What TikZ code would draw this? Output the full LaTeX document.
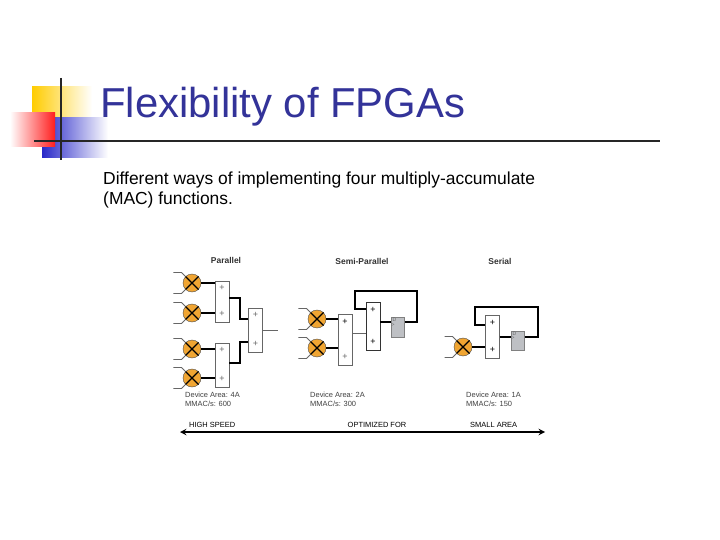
\documentclass[tikz,border=0pt]{standalone}
\usepackage{fontspec}
\setmainfont{Liberation Sans}
\usetikzlibrary{positioning}
\definecolor{titleblue}{RGB}{51,51,153}
\definecolor{decoyellow}{RGB}{255,204,0}
\definecolor{decoblue}{RGB}{40,40,200}
\definecolor{decored}{RGB}{255,30,30}
\definecolor{multorange}{RGB}{240,165,50}
\definecolor{reggray}{RGB}{190,192,196}

\tikzset{
  mult/.style = {circle, draw = black!70, fill = multorange, minimum size = 18bp, inner sep = 0pt},
  adder/.style = {rectangle, draw = black!60, fill = white, minimum width = 14bp, inner sep = 0pt},
  regbox/.style = {rectangle, draw = black!50, fill = reggray, minimum width = 13bp, inner sep = 0pt},
  wire/.style = {line width = 1.8bp, black},
  thinwire/.style = {line width = 0.8bp, black!60},
  head/.style = {font = \fontsize{8.5}{9}\selectfont\bfseries, text = black!80},
  info/.style = {font = \fontsize{7.5}{9}\selectfont, text = black!75, align = left, anchor = north west, inner sep = 0pt},
}

\newcommand{\crossit}[1]{\draw[line width = 1.3bp] (#1.45) -- (#1.225) (#1.135) -- (#1.315);}
\newcommand{\feeds}[1]{%
  \draw[thinwire] (#1.135) -- ++(-4,-4) -- ++(-8,0);
  \draw[thinwire] (#1.225) -- ++(-4,4) -- ++(-8,0);}

\begin{document}
\begin{tikzpicture}[x = 1bp, y = -1bp]
\useasboundingbox (0,0) rectangle (720,540);
\fill[white] (0,0) rectangle (720,540);

% corner decoration
\shade[left color = decoyellow, right color = white] (32,87) rectangle (92,118);
\shade[left color = decoblue, right color = white] (42,118) rectangle (108,158);
\shade[left color = white, right color = decored] (10,113) rectangle (55,147);
\draw[line width = 2bp, black!85] (61,78) -- (61,160);
\draw[line width = 2bp, black!85] (34,141) -- (660,141);

\node[anchor = west, text = titleblue, font = \fontsize{42}{48}\selectfont, inner sep = 0pt] (title) at (100,107) {Flexibility of FPGAs};
\node[anchor = base west, align = left, font = \fontsize{17.5}{21}\selectfont, inner sep = 0pt] (body) at (103,205)
  {Different ways of implementing four multiply-accumulate\\(MAC) functions.};

% parallel
\node[head] (hpar) at (226,260) {Parallel};
\foreach \n/\y in {1/283, 2/313, 3/349, 4/378} {
  \node[mult] (pm\n) at (192,\y) {};
  \crossit{pm\n}
  \feeds{pm\n}
}
\node[adder, minimum height = 41bp] (pa1) at (222,301.5) {};
\node[adder, minimum height = 44bp] (pa2) at (222,365) {};
\node[adder, minimum height = 44bp] (pa3) at (255.5,330) {};
\foreach \a in {pa1, pa2, pa3} {
  \node[font = \small, text = black!60] at ([yshift = -7bp]\a.north) {+};
  \node[font = \small, text = black!60] at ([yshift = 8bp]\a.south) {+};
}
\draw[wire] (pm1) -- (pm1 -| pa1.west);
\draw[wire] (pm2) -- (pm2 -| pa1.west);
\draw[wire] (pm3) -- (pm3 -| pa2.west);
\draw[wire] (pm4) -- (pm4 -| pa2.west);
\draw[wire] (pa1.east |- 0,298) -- (240,298) -- (240,319) -- (pa3.west |- 0,319);
\draw[wire] (pa2.east |- 0,363) -- (240,363) -- (240,342) -- (pa3.west |- 0,342);
\draw[thinwire] (pa3.east) -- (278,330);
\node[info] (ipar) at (185,392) {Device Area: 4A\\MMAC/s: 600};

% semi-parallel
\node[head] (hsemi) at (362,261) {Semi-Parallel};
\foreach \n/\y in {1/319, 2/348} {
  \node[mult] (sm\n) at (317,\y) {};
  \crossit{sm\n}
  \feeds{sm\n}
}
\node[adder, minimum height = 51bp] (sa1) at (345,339.5) {};
\node[adder, minimum height = 48bp, draw = black!80] (sa2) at (373,326) {};
\node[regbox, minimum height = 20bp] (sr) at (398,327) {};
\node[font = \tiny, text = black!60, anchor = north west, inner sep = 1bp] at (sr.north west) {D};
\node[font = \tiny, text = black!60, anchor = west, inner sep = 0pt] at ([yshift = 2bp]sr.west) {>};
\node[font = \small] at ([yshift = -8bp]sa1.north) {+};
\node[font = \small, text = black!60] at ([yshift = 8bp]sa1.south) {+};
\node[font = \small] at ([yshift = -8bp]sa2.north) {+};
\node[font = \small] at ([yshift = 8bp]sa2.south) {+};
\draw[wire] (sm1) -- (sm1 -| sa1.west);
\draw[wire] (sm2) -- (sm2 -| sa1.west);
\draw[thinwire] (sa1.east |- 0,333) -- (sa2.west |- 0,333);
\draw[wire] (sa2.east |- 0,322) -- (sr.west |- 0,322);
\coordinate (sout) at (417,322);
\draw[wire] (sr.east |- 0,322) -- (sout) -- (sout |- 0,291) -- (355,291) -- (355,309) -- (sa2.west |- 0,309);
\node[info] (isemi) at (310,392) {Device Area: 2A\\MMAC/s: 300};

% serial
\node[head] (hser) at (500,261) {Serial};
\node[mult] (rm) at (463,347) {};
\crossit{rm}
\feeds{rm}
\node[adder, minimum height = 43bp] (ra) at (492.5,336.5) {};
\node[regbox, minimum height = 19bp] (rr) at (518,340.5) {};
\node[font = \tiny, text = black!60, anchor = north west, inner sep = 1bp] at (rr.north west) {D};
\node[font = \tiny, text = black!60, anchor = west, inner sep = 0pt] at ([yshift = 2bp]rr.west) {>};
\node[font = \small] at ([yshift = -8bp]ra.north) {+};
\node[font = \small] at ([yshift = 8bp]ra.south) {+};
\draw[wire] (rm) -- (rm -| ra.west);
\draw[wire] (ra.east |- 0,337) -- (rr.west |- 0,337);
\coordinate (rout) at (538,337);
\draw[wire] (rr.east |- 0,337) -- (rout) -- (rout |- 0,307) -- (475,307) -- (475,325) -- (ra.west |- 0,325);
\node[info] (iser) at (466,392) {Device Area: 1A\\MMAC/s: 150};

% trade-off axis
\coordinate (axl) at (180,432);
\coordinate (axr) at (545,432);
\draw[line width = 1.8bp, <->, >=stealth] (axl) -- (axr);
\node[font = \fontsize{7.5}{8}\selectfont, anchor = west, inner sep = 0pt] (lhigh) at (189,425) {HIGH SPEED};
\node[font = \fontsize{7.5}{8}\selectfont, inner sep = 0pt] (lopt) at (377,425) {OPTIMIZED FOR};
\node[font = \fontsize{7.5}{8}\selectfont, anchor = west, inner sep = 0pt] (lsmall) at (470,425) {SMALL AREA};
\end{tikzpicture}
\end{document}
